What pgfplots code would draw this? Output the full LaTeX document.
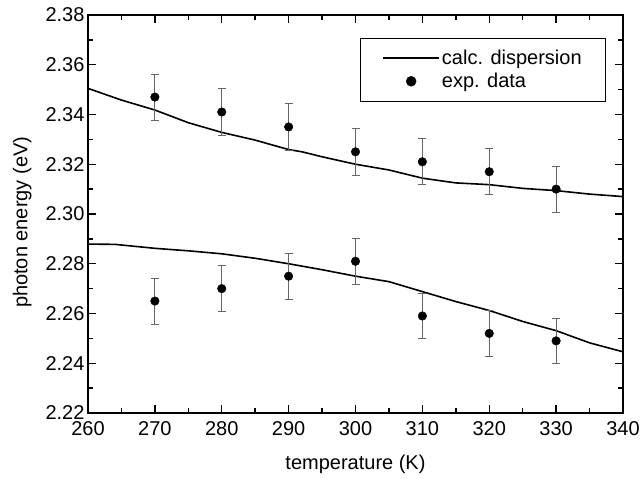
\documentclass[border=0pt]{standalone}
\usepackage{pgfplots}
\pgfplotsset{compat=1.18}
\usepackage{fontspec}
\setmainfont{Liberation Sans}
\newcommand{\fs}{\fontsize{20}{24}\selectfont}
\begin{document}
\begin{tikzpicture}
\begin{axis}[
  name=ax,
  scale only axis,
  width=535pt, height=398pt,
  xmin=260, xmax=340, ymin=2.22, ymax=2.38,
  xtick={260,270,...,340},
  ytick={2.22,2.24,...,2.381},
  minor x tick num=1, minor y tick num=1,
  tick align=inside,
  major tick length=8pt, minor tick length=5pt,
  axis line style={line width=1.6pt},
  every tick/.style={black, line width=1.4pt},
  tick label style={font=\fs},
  /pgf/number format/assume math mode=true,
  yticklabel style={/pgf/number format/.cd, fixed, fixed zerofill, precision=2},
  xticklabel style={yshift=-5pt, /pgf/number format/.cd, fixed},
  label style={font=\fs},
  xlabel={temperature (K)},
  ylabel={photon energy (eV)},
  xlabel style={at={(axis description cs:0.5,-0.128)}, anchor=center},
  ylabel style={at={(axis description cs:-0.123,0.479)}, anchor=center},
  legend style={at={(0.968,0.942)}, anchor=north east, draw=black,
    font=\fs, inner xsep=22pt, inner ysep=10pt, row sep=3pt},
  legend cell align=left,
]
% calculated dispersion, upper branch
\addplot[black, line width=1.6pt, no marks,
  legend image code/.code={\draw[black, line width=1.6pt] (0pt,0pt) -- (56pt,0pt);}]
  coordinates {
  (260,2.3505) (265,2.3458) (270,2.3418) (275,2.3367) (280,2.3328)
  (285,2.3297) (290,2.3259) (292,2.3250) (295,2.3230)
  (300,2.3200) (305,2.3177) (310,2.3144) (315,2.3125) (320,2.3118)
  (325,2.3103) (330,2.3094) (335,2.3080) (340,2.3070)
};
\addlegendentry{calc. dispersion}
% calculated dispersion, lower branch
\addplot[black, line width=1.6pt, no marks, forget plot] coordinates {
  (260,2.2879) (264,2.2878) (270,2.2862) (275,2.2852) (280,2.2840)
  (285,2.2822) (290,2.2800) (295,2.2776) (300,2.2750) (305,2.2728)
  (310,2.2688) (315,2.2648) (320,2.2612) (325,2.2568) (330,2.2531)
  (335,2.2482) (340,2.2446)
};
% experimental data
\addplot[only marks, mark=*, mark size=4.3pt, black,
  legend image code/.code={\fill[black] (28pt,0pt) circle (5pt);},
  error bars/.cd, y dir=both, y explicit,
  error bar style={line width=0.8pt, black!60},
  error mark options={rotate=90, line width=0.8pt, black!60, mark size=4pt}]
  coordinates {
  (270,2.347) +- (0,0.0093)
  (280,2.341) +- (0,0.0093)
  (290,2.335) +- (0,0.0093)
  (300,2.325) +- (0,0.0093)
  (310,2.321) +- (0,0.0093)
  (320,2.317) +- (0,0.0093)
  (330,2.310) +- (0,0.0093)
};
\addlegendentry{exp. data}
\addplot[only marks, mark=*, mark size=4.3pt, black, forget plot,
  error bars/.cd, y dir=both, y explicit,
  error bar style={line width=0.8pt, black!60},
  error mark options={rotate=90, line width=0.8pt, black!60, mark size=4pt}]
  coordinates {
  (270,2.265) +- (0,0.0092)
  (280,2.270) +- (0,0.0092)
  (290,2.275) +- (0,0.0092)
  (300,2.281) +- (0,0.0092)
  (310,2.259) +- (0,0.0092)
  (320,2.252) +- (0,0.0092)
  (330,2.249) +- (0,0.0092)
};
\end{axis}
\pgfresetboundingbox
\path (ax.south west) ++(-88pt,-66pt) rectangle ++(640pt,479pt);
\end{tikzpicture}
\end{document}
